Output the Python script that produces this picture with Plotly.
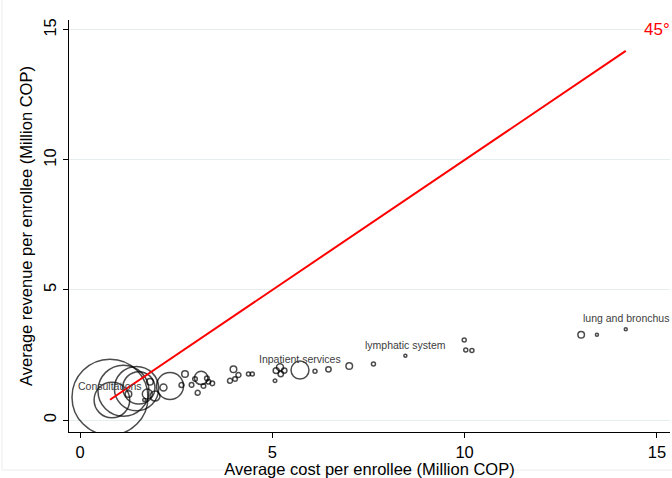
import plotly.graph_objects as go

# Average cost / revenue per enrollee (Million COP) and relative weight (enrollees)
cost = [0.78, 0.83, 1.13, 1.47, 1.53, 2.34, 1.26, 1.75, 1.95, 1.82,
        1.67, 2.17, 2.64, 2.73, 2.90, 2.99, 3.30, 3.34, 3.21, 3.06,
        3.15, 3.44, 3.90, 3.99, 4.12, 4.03, 4.38, 4.48, 5.10, 5.20,
        5.31, 5.22, 5.07, 5.72, 6.11, 6.46, 7.00, 7.63, 8.46, 9.99,
        10.03, 10.19, 13.03, 13.44, 14.19]
revenue = [0.88, 0.77, 1.13, 1.21, 1.24, 1.31, 1.00, 1.00, 0.92, 1.47,
           0.77, 1.25, 1.35, 1.77, 1.35, 1.58, 1.60, 1.47, 1.31, 1.05,
           1.62, 1.41, 1.51, 1.95, 1.73, 1.58, 1.77, 1.77, 1.90, 2.03,
           1.90, 1.77, 1.51, 1.92, 1.88, 1.95, 2.08, 2.15, 2.47, 3.08,
           2.69, 2.67, 3.28, 3.28, 3.49]
weight = [100, 22, 45, 34, 18, 12.6, 0.75, 1.73, 1.73, 0.75,
          0.16, 0.85, 0.43, 0.75, 0.37, 0.37, 0.37, 0.37, 0.37, 0.43,
          3.1, 0.37, 0.43, 0.75, 0.43, 0.37, 0.28, 0.28, 0.62, 0.85,
          0.5, 0.5, 0.22, 5.6, 0.28, 0.5, 0.75, 0.28, 0.16, 0.28,
          0.28, 0.28, 0.75, 0.16, 0.16]
labels = [""] * len(cost)
labels[0] = "Consultations"
labels[33] = "Inpatient services"
labels[38] = "lymphatic system"
labels[44] = "lung and bronchus"

x_ticks = [0, 5, 10, 15]
y_ticks = [0, 5, 10, 15]

FONT = "Liberation Sans, Arial, Helvetica, sans-serif"
max_diam = 76
sizeref = 2.0 * max(weight) / (max_diam ** 2)

fig = go.Figure()

fig.add_trace(go.Scatter(
    x=cost, y=revenue, mode="markers",
    marker=dict(size=weight, sizemode="area", sizeref=sizeref, sizemin=0,
                symbol="circle", color="rgba(0,0,0,0)",
                line=dict(color="black", width=1.5)),
    hoverinfo="skip", showlegend=False,
))

lo, hi = min(cost), max(cost)
fig.add_trace(go.Scatter(
    x=[lo, hi], y=[lo, hi], mode="lines",
    line=dict(color="#ff0000", width=2),
    hoverinfo="skip", showlegend=False,
))

for xv, yv, lab in zip(cost, revenue, labels):
    if lab:
        fig.add_annotation(x=xv, y=yv, text=lab, showarrow=False,
                           yshift=11, xanchor="center", yanchor="middle",
                           font=dict(family=FONT, size=10.5, color="#3c3c3c"))

fig.add_annotation(x=15, y=15, text="45°", showarrow=False,
                   xanchor="center", yanchor="middle",
                   font=dict(family=FONT, size=17, color="#ff0000"))

# faint graph-region frame
fig.add_shape(type="rect", xref="paper", yref="paper",
              x0=(2 - 69) / 601, x1=1.2, y0=-(470 - 432) / 412, y1=1.2,
              line=dict(color="#ececec", width=1), layer="below")

fig.update_layout(
    width=672, height=478,
    margin=dict(l=69, r=2, t=20, b=46),
    paper_bgcolor="white", plot_bgcolor="white",
    font=dict(family=FONT, size=16.5, color="black"),
    xaxis=dict(range=[-0.286, 15.34], tickvals=x_ticks,
               showgrid=False, zeroline=False,
               showline=True, linecolor="black", linewidth=1,
               ticks="outside", ticklen=5, tickcolor="black",
               tickfont=dict(size=16.5),
               title=dict(text="Average cost per enrollee (Million COP)",
                          font=dict(size=16.5), standoff=1)),
    yaxis=dict(range=[-0.46, 15.38], tickvals=y_ticks,
               showgrid=True, gridcolor="#e6eef0", gridwidth=1,
               zeroline=False,
               showline=True, linecolor="black", linewidth=1,
               ticks="outside", ticklen=5, tickcolor="black",
               tickangle=-90, tickfont=dict(size=16.5),
               title=dict(text="Average revenue per enrollee (Million COP)",
                          font=dict(size=16.5), standoff=4)),
)

fig.write_html("out.html")
